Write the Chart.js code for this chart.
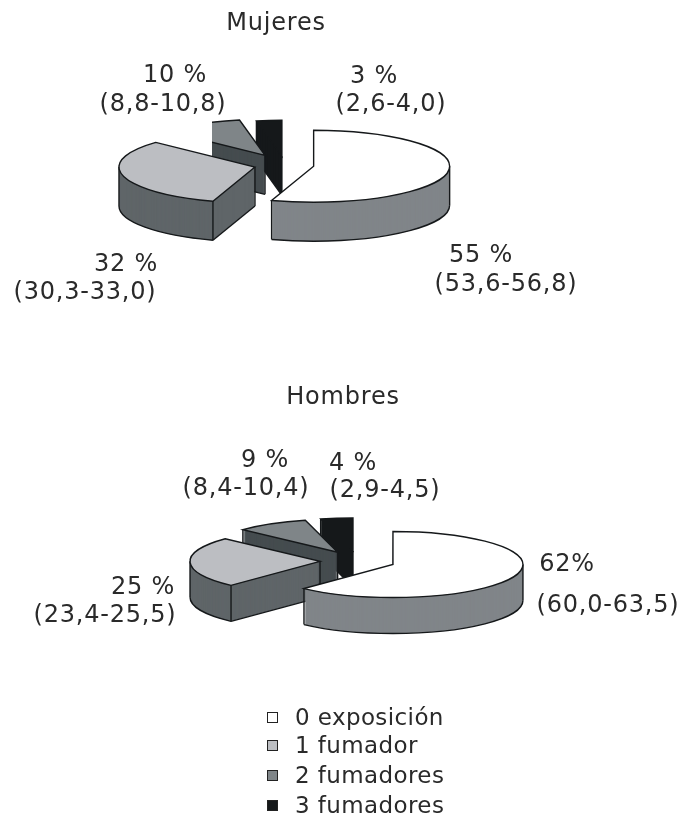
<!DOCTYPE html>
<html lang="es">
<head>
<meta charset="utf-8">
<title>Exposición al humo de tabaco</title>
<script src="https://cdn.jsdelivr.net/npm/chart.js@4"></script>
<style>
    html, body { margin: 0; background: #fff; }
    body { position: relative; width: 687px; height: 818px; overflow: hidden; font-family: "DejaVu Sans", sans-serif; color: #2a2a2a; }
    canvas { position: absolute; }
    .txt { position: absolute; transform: translate(-50%, -50%); font-size: 24px; letter-spacing: 0.8px; white-space: nowrap; line-height: 1; }
    .key { position: absolute; transform: translateY(-50%); font-size: 23px; letter-spacing: 0.4px; white-space: nowrap; line-height: 1; }
    .swatch { position: absolute; box-sizing: border-box; border: 1px solid #222; }
</style>
</head>
<body>
<canvas id="mujeresChart" width="380" height="380"></canvas>
<canvas id="hombresChart" width="380" height="380"></canvas>
<script>
// Data
const categories = ['0 exposición', '1 fumador', '2 fumadores', '3 fumadores'];
const mujeresValues = [55, 32, 10, 3];
const hombresValues = [62, 25, 9, 4];
const mujeresPct = ['55 %', '32 %', '10 %', '3 %'];
const mujeresCi = ['(53,6-56,8)', '(30,3-33,0)', '(8,8-10,8)', '(2,6-4,0)'];
const hombresPct = ['62%', '25 %', '9 %', '4 %'];
const hombresCi = ['(60,0-63,5)', '(23,4-25,5)', '(8,4-10,4)', '(2,9-4,5)'];

// Slice colours: top face and side wall
const topColors = ['#ffffff', '#bcbec2', '#7f8588', '#15181a'];
const wallColors = ['#808589', '#5f6568', '#454c4f', '#15181a'];
const OUTLINE = '#15181a';

// Draws the pie tilted: side walls first, then the flattened top of each slice
const tiltedPie = {
    id: 'tiltedPie',
    beforeDatasetsDraw(chart, args, opts) {
        const ctx = chart.ctx;
        const arcs = chart.getDatasetMeta(0).data;

        const place = (arc, i, shift) => {
            const mid = (arc.startAngle + arc.endAngle) / 2;
            ctx.translate(arc.x, arc.y + shift);
            ctx.scale(1, opts.squash);
            ctx.translate(Math.cos(mid) * opts.explode[i], Math.sin(mid) * opts.explode[i]);
            ctx.translate(-arc.x, -arc.y);
        };

        const fill = (arc, i, shift, color) => {
            const base = arc.options;
            arc.options = { ...base, backgroundColor: color };
            ctx.save();
            place(arc, i, shift);
            arc.draw(ctx);
            ctx.restore();
            arc.options = base;
        };

        // stroke in page pixels so the line width is not flattened
        const stroke = (arc, i, shift, build) => {
            ctx.save();
            ctx.save();
            place(arc, i, shift);
            ctx.beginPath();
            build(ctx);
            ctx.restore();
            ctx.strokeStyle = OUTLINE;
            ctx.lineWidth = 1.4;
            ctx.stroke();
            ctx.restore();
        };

        // vertical edge of the wall under a point of the top face
        const vertical = (arc, i, angle, radius) => {
            ctx.save();
            place(arc, i, 0);
            const m = ctx.getTransform();
            ctx.restore();
            const x = arc.x + Math.cos(angle) * radius;
            const y = arc.y + Math.sin(angle) * radius;
            const px = m.a * x + m.c * y + m.e;
            const py = m.b * x + m.d * y + m.f;
            ctx.save();
            ctx.beginPath();
            ctx.moveTo(px, py);
            ctx.lineTo(px, py + opts.depth);
            ctx.strokeStyle = OUTLINE;
            ctx.lineWidth = 1.4;
            ctx.stroke();
            ctx.restore();
        };

        opts.order.forEach(i => {
            const arc = arcs[i];
            const { x, y, outerRadius: r, startAngle: a0, endAngle: a1 } = arc;
            const cut = opts.cutLeft[i];

            ctx.save();
            if (cut !== null) {
                ctx.beginPath();
                ctx.rect(cut - chart.canvas.offsetLeft, 0, chart.width, chart.height);
                ctx.clip();
            }

            // side wall, stamped downward from the bottom edge
            for (let s = opts.depth; s > 0; s--) {
                fill(arc, i, s, wallColors[i]);
            }

            // lower rim, front half only
            const front0 = Math.max(a0, 0);
            const front1 = Math.min(a1, Math.PI);
            if (front1 > front0) {
                stroke(arc, i, opts.depth, c => c.arc(x, y, r, front0, front1));
            }
            // the radial wall that starts the slice faces the viewer on the left half
            const startsLeft = Math.sin(a0 + Math.PI / 2) < 0;
            if (startsLeft) {
                stroke(arc, i, opts.depth, c => {
                    c.moveTo(x, y);
                    c.lineTo(x + Math.cos(a0) * r, y + Math.sin(a0) * r);
                });
                vertical(arc, i, a0, 0);
                vertical(arc, i, a0, r);
            } else if (a1 > Math.PI / 2 && a1 < Math.PI) {
                vertical(arc, i, a1, r);
            }
            // silhouette edges at the far left and far right of the ellipse
            if (a0 < Math.PI && a1 > Math.PI) {
                vertical(arc, i, Math.PI, r);
            }
            if (a0 < 0 && a1 > 0) {
                vertical(arc, i, 0, r);
            }

            // top face
            fill(arc, i, 0, topColors[i]);
            stroke(arc, i, 0, c => {
                c.moveTo(x, y);
                c.arc(x, y, r, a0, a1);
                c.closePath();
            });
            ctx.restore();
        });

        return false;
    }
};

function makePie(id, values, center, settings) {
    const canvas = document.getElementById(id);
    canvas.style.left = (center.x - canvas.width / 2) + 'px';
    canvas.style.top = (center.y - canvas.height / 2) + 'px';

    return new Chart(canvas, {
        type: 'pie',
        data: {
            labels: categories,
            datasets: [{ data: values, backgroundColor: topColors, borderWidth: 0 }]
        },
        options: {
            responsive: false,
            animation: false,
            radius: settings.radius,
            layout: { padding: 0 },
            plugins: {
                legend: { display: false },
                tooltip: { enabled: false },
                title: { display: false },
                tiltedPie: {
                    squash: settings.ry / settings.radius,
                    depth: settings.depth,
                    explode: settings.explode,
                    cutLeft: settings.cutLeft,
                    order: [3, 2, 1, 0]
                }
            }
        },
        plugins: [tiltedPie]
    });
}

makePie('mujeresChart', mujeresValues, { x: 285, y: 165 }, {
    radius: 136, ry: 36, depth: 39,
    explode: [29, 31, 41.5, 33],
    cutLeft: [null, null, 212, null]
});

makePie('hombresChart', hombresValues, { x: 358, y: 560.5 }, {
    radius: 130, ry: 33, depth: 36,
    explode: [37.6, 38, 40, 40],
    cutLeft: [null, null, null, null]
});

// Titles, value labels and key
function addText(text, x, y) {
    const el = document.createElement('div');
    el.className = 'txt';
    el.textContent = text;
    el.style.left = x + 'px';
    el.style.top = y + 'px';
    document.body.appendChild(el);
}

addText('Mujeres', 276, 22);
addText('Hombres', 343, 396);

addText(mujeresPct[0], 481, 254);
addText(mujeresCi[0], 506, 283);
addText(mujeresPct[1], 126, 263);
addText(mujeresCi[1], 85, 291);
addText(mujeresPct[2], 175, 74);
addText(mujeresCi[2], 163, 103);
addText(mujeresPct[3], 374, 75);
addText(mujeresCi[3], 391, 103);

addText(hombresPct[0], 567, 563);
addText(hombresCi[0], 608, 604);
addText(hombresPct[1], 143, 586);
addText(hombresCi[1], 105, 614);
addText(hombresPct[2], 265, 459);
addText(hombresCi[2], 246, 487);
addText(hombresPct[3], 353, 462);
addText(hombresCi[3], 385, 489);

const keyRows = [717, 745, 775, 805];
categories.forEach((name, i) => {
    const box = document.createElement('div');
    box.className = 'swatch';
    box.style.cssText = `left:267px;top:${keyRows[i] - 5}px;width:11px;height:11px;background:${topColors[i]}`;
    document.body.appendChild(box);

    const label = document.createElement('div');
    label.className = 'key';
    label.textContent = name;
    label.style.left = '295px';
    label.style.top = keyRows[i] + 'px';
    document.body.appendChild(label);
});
</script>
</body>
</html>
